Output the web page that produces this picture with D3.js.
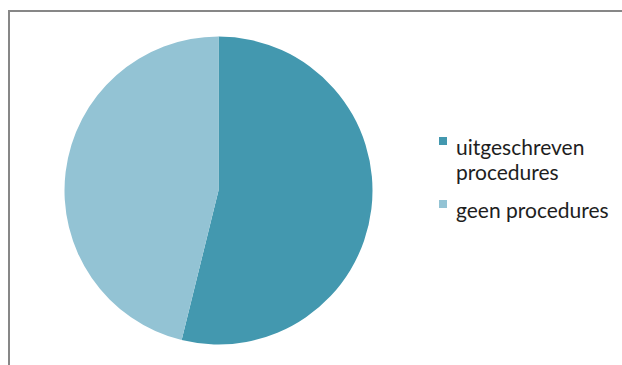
<!DOCTYPE html>
<html>
<head>
<meta charset="utf-8">
<script src="https://cdn.jsdelivr.net/npm/d3@7"></script>
<style>
  html, body { margin: 0; padding: 0; background: #fff; }
  svg { display: block; }
  text { font-family: "Lato", "Open Sans", sans-serif; fill: #1e1e1e; }
</style>
</head>
<body>
<svg id="chart" width="622" height="365"></svg>
<script>
// Categories and values of the pie
const categories = ["uitgeschreven procedures", "geen procedures"];
const values = [7, 6];
const legendLines = [["uitgeschreven", "procedures"], ["geen procedures"]];
const colors = ["#4398AF", "#93C3D4"];

const width = 622, height = 365;
const svg = d3.select("#chart");

// Chart area frame (continues past the right and bottom edges)
svg.append("rect")
  .attr("x", 9).attr("y", 11)
  .attr("width", 700).attr("height", 400)
  .attr("fill", "#fff")
  .attr("stroke", "#878787")
  .attr("stroke-width", 2);

const cx = 218.5, cy = 190.5, radius = 154;

const pie = d3.pie().sort(null).value(d => d)(values);
const arc = d3.arc().innerRadius(0).outerRadius(radius);

const g = svg.append("g").attr("transform", `translate(${cx},${cy})`);
g.selectAll("path")
  .data(pie)
  .join("path")
  .attr("d", arc)
  .attr("fill", (d, i) => colors[i]);

// Legend
const color = d3.scaleOrdinal().domain(categories).range(colors);
const legendX = 439, textX = 456, fontSize = 21, lineGap = 25;
const itemTops = [155, 218]; // baselines of the first line of each item

const legend = svg.append("g");
categories.forEach((c, i) => {
  const base = itemTops[i];
  legend.append("rect")
    .attr("x", legendX).attr("y", base - 18)
    .attr("width", 8).attr("height", 8)
    .attr("fill", color(c));
  const t = legend.append("text")
    .attr("x", textX).attr("y", base)
    .style("font-size", fontSize + "px");
  legendLines[i].forEach((line, j) => {
    t.append("tspan")
      .attr("x", textX)
      .attr("dy", j === 0 ? 0 : lineGap)
      .text(line);
  });
});
</script>
</body>
</html>
